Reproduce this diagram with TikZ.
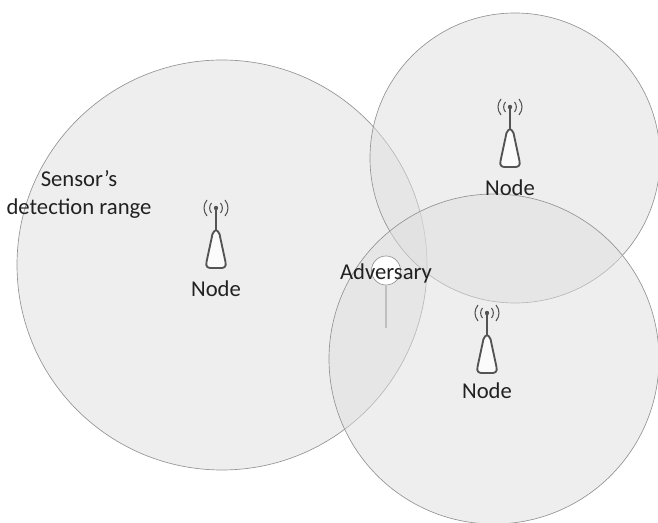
\documentclass[tikz,border=0pt]{standalone}
\usepackage{xcolor}
\usepackage{fontspec}
\setmainfont{Carlito}
\definecolor{rangeedge}{gray}{0.58}
\definecolor{rangefill}{gray}{0.87}
\definecolor{iconedge}{gray}{0.33}
\definecolor{labeltext}{gray}{0.13}
\tikzset{
  rangearea/.style={circle, draw=rangeedge, line width=0.5pt, fill=rangefill, fill opacity=0.5, draw opacity=1, inner sep=0pt},
  lbl/.style={text=labeltext, font=\fontsize{17}{21}\selectfont, inner sep=0pt, align=center},
  antenna/.pic={
    \draw[iconedge, line width=1pt] (0,0) -- (0,23);
    \fill[iconedge] (0,0) circle (2.2);
    \draw[iconedge, line width=0.8pt] (-4.5,-5) .. controls (-7,-2) and (-7,2) .. (-4.5,5);
    \draw[iconedge, line width=0.8pt] (4.5,-5) .. controls (7,-2) and (7,2) .. (4.5,5);
    \draw[iconedge, line width=0.8pt] (-9,-8) .. controls (-13,-3) and (-13,3) .. (-9,8);
    \draw[iconedge, line width=0.8pt] (9,-8) .. controls (13,-3) and (13,3) .. (9,8);
    \draw[iconedge, line width=1.4pt, fill=white, fill opacity=0.75, line join=round]
      (-3.5,26) .. controls (-1,21) and (1,21) .. (3.5,26) -- (9.5,54)
      .. controls (10.5,59) and (8,60) .. (5,60) -- (-5,60)
      .. controls (-8,60) and (-10.5,59) .. (-9.5,54) -- cycle;
  }
}
\begin{document}
\begin{tikzpicture}[x=0.75pt, y=-0.75pt]
  \useasboundingbox (0,0) rectangle (658,523);
  \clip (0,0) rectangle (658,523);

  \node[rangearea, minimum size=307.5pt] (rangeleft) at (222,265) {};
  \node[rangearea, minimum size=217.5pt] (rangetop) at (515,158) {};
  \node[rangearea, minimum size=247.5pt] (rangebottom) at (494,359) {};

  \pic at (216,208) {antenna};
  \pic at (510,107) {antenna};
  \pic at (487,313) {antenna};

  \node[lbl] (nodeleft) at (216,289) {Node};
  \node[lbl] (nodetop) at (510,188) {Node};
  \node[lbl] (nodebottom) at (487,391) {Node};
  \node[lbl] (rangelabel) at (79,194) {Sensor’s\\detection range};

  \node[circle, draw=rangeedge, fill=white, line width=0.5pt, minimum size=21.75pt, inner sep=0pt] (advdot) at (386,270.5) {};
  \coordinate (advfoot) at (386,328);
  \draw[rangeedge!60!white, line width=1pt] (advdot) -- (advfoot);
  \node[lbl] (advlabel) at (386,273) {Adversary};
\end{tikzpicture}
\end{document}
